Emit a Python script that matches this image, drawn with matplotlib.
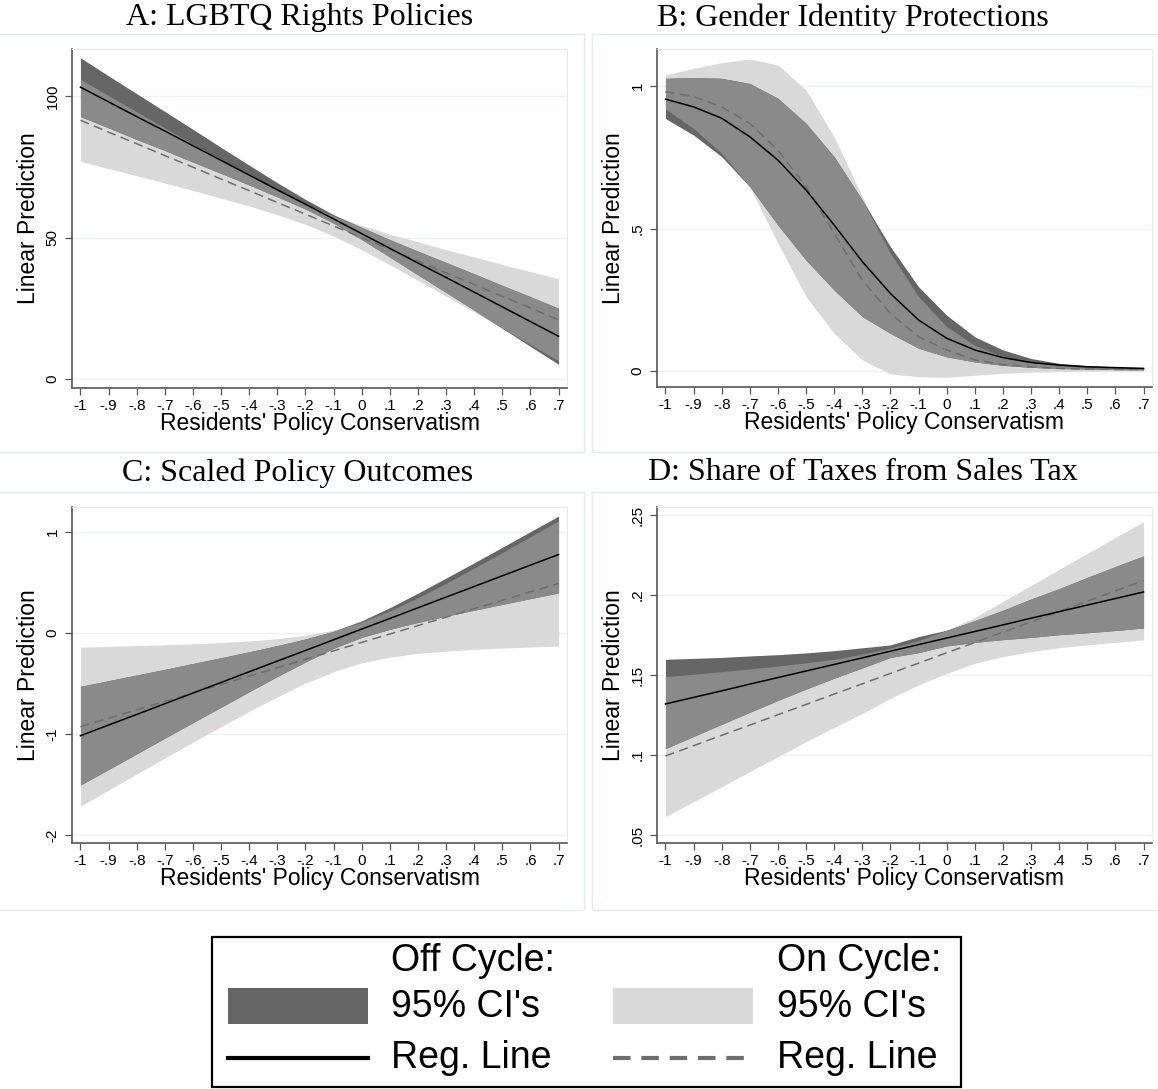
import numpy as np
import matplotlib
matplotlib.use("Agg")
import matplotlib.pyplot as plt
from matplotlib.patches import Rectangle
from matplotlib.lines import Line2D

W, H = 1158, 1089

# ------------------------------------------------------------------
# data: x = residents' policy conservatism
# ------------------------------------------------------------------
x_vals = [-1.0, -0.9, -0.8, -0.7, -0.6, -0.5, -0.4, -0.3, -0.2, -0.1,
          0.0, 0.1, 0.2, 0.3, 0.4, 0.5, 0.6, 0.7]
x_ticklabels = ["-1", "-.9", "-.8", "-.7", "-.6", "-.5", "-.4", "-.3", "-.2",
                "-.1", "0", ".1", ".2", ".3", ".4", ".5", ".6", ".7"]

# A: LGBTQ Rights Policies
a_off_fit = [103.2, 98.0, 92.8, 87.7, 82.5, 77.3, 72.1, 66.9, 61.8, 56.6,
             51.4, 46.2, 41.0, 35.9, 30.7, 25.5, 20.3, 15.1]
a_off_hi = [113.6, 107.2, 100.9, 94.6, 88.3, 81.9, 75.6, 69.4, 63.5, 58.1,
            53.6, 49.3, 45.2, 41.2, 37.2, 33.1, 29.1, 25.0]
a_off_lo = [92.8, 88.8, 84.7, 80.8, 76.7, 72.7, 68.6, 64.4, 60.1, 55.1,
            49.3, 43.1, 36.8, 30.6, 24.3, 17.9, 11.5, 5.2]
a_on_fit = [91.5, 87.3, 83.2, 79.0, 74.9, 70.7, 66.6, 62.4, 58.3, 54.1,
            50.0, 45.8, 41.7, 37.5, 33.4, 29.2, 25.1, 20.9]
a_on_hi = [106.0, 100.2, 94.5, 88.8, 83.1, 77.5, 72.0, 66.7, 61.9, 57.7,
           54.3, 51.2, 48.5, 45.7, 43.2, 40.5, 38.0, 35.4]
a_on_lo = [77.0, 74.4, 71.9, 69.3, 66.7, 63.9, 61.2, 58.1, 54.7, 50.5,
           45.7, 40.4, 34.9, 29.3, 23.7, 17.9, 12.2, 6.4]

# B: Gender Identity Protections
b_off_fit = [0.954, 0.927, 0.887, 0.822, 0.740, 0.635, 0.512, 0.384, 0.272,
             0.179, 0.115, 0.074, 0.047, 0.030, 0.021, 0.015, 0.012, 0.009]
b_off_hi = [1.027, 1.030, 1.027, 1.009, 0.957, 0.869, 0.752, 0.600, 0.436,
            0.296, 0.196, 0.120, 0.074, 0.044, 0.027, 0.019, 0.015, 0.013]
b_off_lo = [0.886, 0.828, 0.752, 0.647, 0.512, 0.389, 0.284, 0.191, 0.132,
            0.080, 0.050, 0.032, 0.020, 0.013, 0.009, 0.007, 0.005, 0.004]
b_on_fit = [0.980, 0.963, 0.927, 0.869, 0.775, 0.647, 0.483, 0.319, 0.202,
            0.120, 0.074, 0.039, 0.023, 0.015, 0.009, 0.007, 0.006, 0.005]
b_on_hi = [1.039, 1.062, 1.082, 1.095, 1.074, 0.986, 0.822, 0.612, 0.413,
           0.261, 0.156, 0.090, 0.050, 0.030, 0.018, 0.012, 0.009, 0.008]
b_on_lo = [0.920, 0.851, 0.764, 0.647, 0.448, 0.261, 0.132, 0.039, -0.010,
           -0.020, -0.022, -0.015, -0.008, -0.004, -0.002, -0.001, 0.000, 0.001]

# C: Scaled Policy Outcomes
c_off_fit = [-1.017, -0.911, -0.806, -0.700, -0.594, -0.489, -0.383, -0.277,
             -0.172, -0.066, 0.040, 0.145, 0.251, 0.357, 0.462, 0.568, 0.674, 0.779]
c_off_hi = [-0.528, -0.471, -0.415, -0.359, -0.301, -0.244, -0.185, -0.124,
            -0.058, 0.019, 0.122, 0.252, 0.396, 0.546, 0.697, 0.851, 1.006, 1.160]
c_off_lo = [-1.506, -1.351, -1.197, -1.041, -0.887, -0.734, -0.581, -0.430,
            -0.286, -0.151, -0.042, 0.038, 0.106, 0.168, 0.227, 0.285, 0.342, 0.398]
c_on_fit = [-0.927, -0.844, -0.760, -0.677, -0.593, -0.510, -0.426, -0.343,
            -0.259, -0.176, -0.092, -0.009, 0.075, 0.158, 0.242, 0.325, 0.409, 0.492]
c_on_hi = [-0.139, -0.132, -0.124, -0.116, -0.105, -0.093, -0.077, -0.055,
           -0.022, 0.030, 0.110, 0.220, 0.351, 0.494, 0.645, 0.798, 0.955, 1.113]
c_on_lo = [-1.715, -1.556, -1.396, -1.238, -1.081, -0.927, -0.775, -0.631,
           -0.496, -0.382, -0.294, -0.238, -0.201, -0.178, -0.161, -0.148, -0.137, -0.129]

# D: Share of Taxes from Sales Tax
d_off_fit = [0.1319, 0.1360, 0.1401, 0.1443, 0.1484, 0.1525, 0.1566, 0.1607,
             0.1649, 0.1690, 0.1731, 0.1772, 0.1813, 0.1855, 0.1896, 0.1937, 0.1978, 0.2019]
d_off_hi = [0.1598, 0.1604, 0.1610, 0.1619, 0.1627, 0.1638, 0.1652, 0.1670,
            0.1688, 0.1740, 0.1780, 0.1840, 0.1905, 0.1975, 0.2040, 0.2110, 0.2178, 0.2244]
d_off_lo = [0.1040, 0.1116, 0.1192, 0.1267, 0.1341, 0.1412, 0.1480, 0.1544,
            0.1610, 0.1640, 0.1682, 0.1704, 0.1721, 0.1735, 0.1752, 0.1764, 0.1778, 0.1794]
d_on_fit = [0.0994, 0.1058, 0.1123, 0.1187, 0.1252, 0.1316, 0.1381, 0.1445,
            0.1510, 0.1574, 0.1639, 0.1703, 0.1768, 0.1832, 0.1897, 0.1961, 0.2026, 0.2090]
d_on_hi = [0.1490, 0.1505, 0.1521, 0.1538, 0.1556, 0.1576, 0.1598, 0.1630,
           0.1668, 0.1715, 0.1780, 0.1860, 0.1960, 0.2060, 0.2160, 0.2260, 0.2360, 0.2458]
d_on_lo = [0.0615, 0.0708, 0.0802, 0.0896, 0.0990, 0.1083, 0.1173, 0.1260,
           0.1354, 0.1438, 0.1510, 0.1573, 0.1615, 0.1646, 0.1671, 0.1688, 0.1704, 0.1719]

panels = [
    dict(title="A: LGBTQ Rights Policies",
         off=(a_off_fit, a_off_lo, a_off_hi), on=(a_on_fit, a_on_lo, a_on_hi),
         yticks=[0, 50, 100], ylabels=["0", "50", "100"], ylim=(-3.2, 116.7)),
    dict(title="B: Gender Identity Protections",
         off=(b_off_fit, b_off_lo, b_off_hi), on=(b_on_fit, b_on_lo, b_on_hi),
         yticks=[0, 0.5, 1], ylabels=["0", ".5", "1"], ylim=(-0.056, 1.13)),
    dict(title="C: Scaled Policy Outcomes",
         off=(c_off_fit, c_off_lo, c_off_hi), on=(c_on_fit, c_on_lo, c_on_hi),
         yticks=[-2, -1, 0, 1], ylabels=["-2", "-1", "0", "1"], ylim=(-2.08, 1.25)),
    dict(title="D: Share of Taxes from Sales Tax",
         off=(d_off_fit, d_off_lo, d_off_hi), on=(d_on_fit, d_on_lo, d_on_hi),
         yticks=[0.05, 0.1, 0.15, 0.2, 0.25], ylabels=[".05", ".1", ".15", ".2", ".25"],
         ylim=(0.045, 0.255)),
]

# plot-region pixel boxes: left, top, right, bottom
boxes = [(72, 49, 567, 388), (657, 49, 1152, 387),
         (72, 507, 567, 843), (657, 507, 1152, 843)]
title_pos = [(300, 18), (853, 18), (298, 473), (863, 473)]

DARK = "#666666"
LIGHT = "#d9d9d9"
MID = "#8a8a8a"
DASH = "#6e6e6e"
FAINT = "#e4ecee"
SERIF = ["Liberation Serif", "DejaVu Serif"]
SANS = ["Liberation Sans", "DejaVu Sans"]

fig = plt.figure(figsize=(W / 100, H / 100), dpi=100)
fig.patch.set_facecolor("white")


def fx(px):
    return px / W


def fy(py):
    return 1 - py / H


def fig_line(x0, y0, x1, y1, **kw):
    fig.add_artist(Line2D([fx(x0), fx(x1)], [fy(y0), fy(y1)],
                          transform=fig.transFigure, **kw))


# faint sub-graph borders
for y in (34, 452, 492, 910):
    fig_line(0, y, 584, y, color=FAINT, lw=1)
    fig_line(592, y, W, y, color=FAINT, lw=1)
fig_line(584, 34, 584, 452, color=FAINT, lw=1)
fig_line(592, 34, 592, 452, color=FAINT, lw=1)
fig_line(584, 492, 584, 910, color=FAINT, lw=1)
fig_line(592, 492, 592, 910, color=FAINT, lw=1)

x = np.array(x_vals)
for p, (l, t, r, b), (tx, ty) in zip(panels, boxes, title_pos):
    ax = fig.add_axes([fx(l), fy(b), fx(r) - fx(l), fy(t) - fy(b)])
    off_fit, off_lo, off_hi = (np.array(v) for v in p["off"])
    on_fit, on_lo, on_hi = (np.array(v) for v in p["on"])

    ax.fill_between(x, on_lo, on_hi, color=LIGHT, lw=0, zorder=2)
    ax.fill_between(x, off_lo, off_hi, color=DARK, lw=0, zorder=3)
    lo = np.maximum(off_lo, on_lo)
    hi = np.minimum(off_hi, on_hi)
    ax.fill_between(x, lo, hi, where=hi > lo, interpolate=True,
                    color=MID, lw=0, zorder=4)
    ax.plot(x, on_fit, color=DASH, lw=1.1, ls=(0, (6, 3.5)), zorder=5)
    ax.plot(x, off_fit, color="black", lw=1.1, zorder=6)

    ax.set_xlim(-1.03, 0.73)
    ax.set_ylim(*p["ylim"])
    ax.set_xticks(x_vals)
    ax.set_xticklabels(x_ticklabels, family=SANS, fontsize=11)
    ax.set_yticks(p["yticks"])
    ax.set_yticklabels(p["ylabels"], family=SANS, fontsize=11,
                       rotation=90, va="center")
    ax.tick_params(direction="out", length=5, width=0.9, color="#555555",
                   pad=3)
    ax.tick_params(axis="y", pad=4)
    ax.grid(axis="y", color="#eaf2f3", lw=1, zorder=0)
    ax.set_axisbelow(True)
    for side in ("top", "right"):
        ax.spines[side].set_color(FAINT)
        ax.spines[side].set_linewidth(0.8)
    for side in ("left", "bottom"):
        ax.spines[side].set_color("#555555")
        ax.spines[side].set_linewidth(1.2)

    ax.set_xlabel("Residents' Policy Conservatism", family=SANS,
                  fontsize=16.5, labelpad=-1)
    ax.set_ylabel("Linear Prediction", family=SANS, fontsize=16.5,
                  labelpad=4)
    fig.text(fx(tx), fy(ty), p["title"], family=SERIF, fontsize=23,
             ha="center", va="center")

# ------------------------------------------------------------------
# legend
# ------------------------------------------------------------------
fig.add_artist(Rectangle((fx(212), fy(1087)), fx(961) - fx(212),
                         fy(937) - fy(1087), transform=fig.transFigure,
                         fill=False, ec="black", lw=1.6))
leg_fs = 27
for lx, head in ((391, "Off Cycle:"), (777, "On Cycle:")):
    fig.text(fx(lx), fy(961), head, family=SANS, fontsize=leg_fs,
             ha="left", va="center")
    fig.text(fx(lx), fy(1007), "95% CI's", family=SANS, fontsize=leg_fs,
             ha="left", va="center")
    fig.text(fx(lx), fy(1058), "Reg. Line", family=SANS, fontsize=leg_fs,
             ha="left", va="center")
for px0, col in ((228, DARK), (613, LIGHT)):
    fig.add_artist(Rectangle((fx(px0), fy(1024)), fx(px0 + 140) - fx(px0),
                             fy(988) - fy(1024), transform=fig.transFigure,
                             color=col, lw=0))
fig_line(228, 1058, 368, 1058, color="black", lw=3)
fig_line(613, 1058, 753, 1058, color=DASH, lw=3, ls=(0, (4.2, 2.6)))

fig.savefig("out.png", dpi=100, facecolor="white")
